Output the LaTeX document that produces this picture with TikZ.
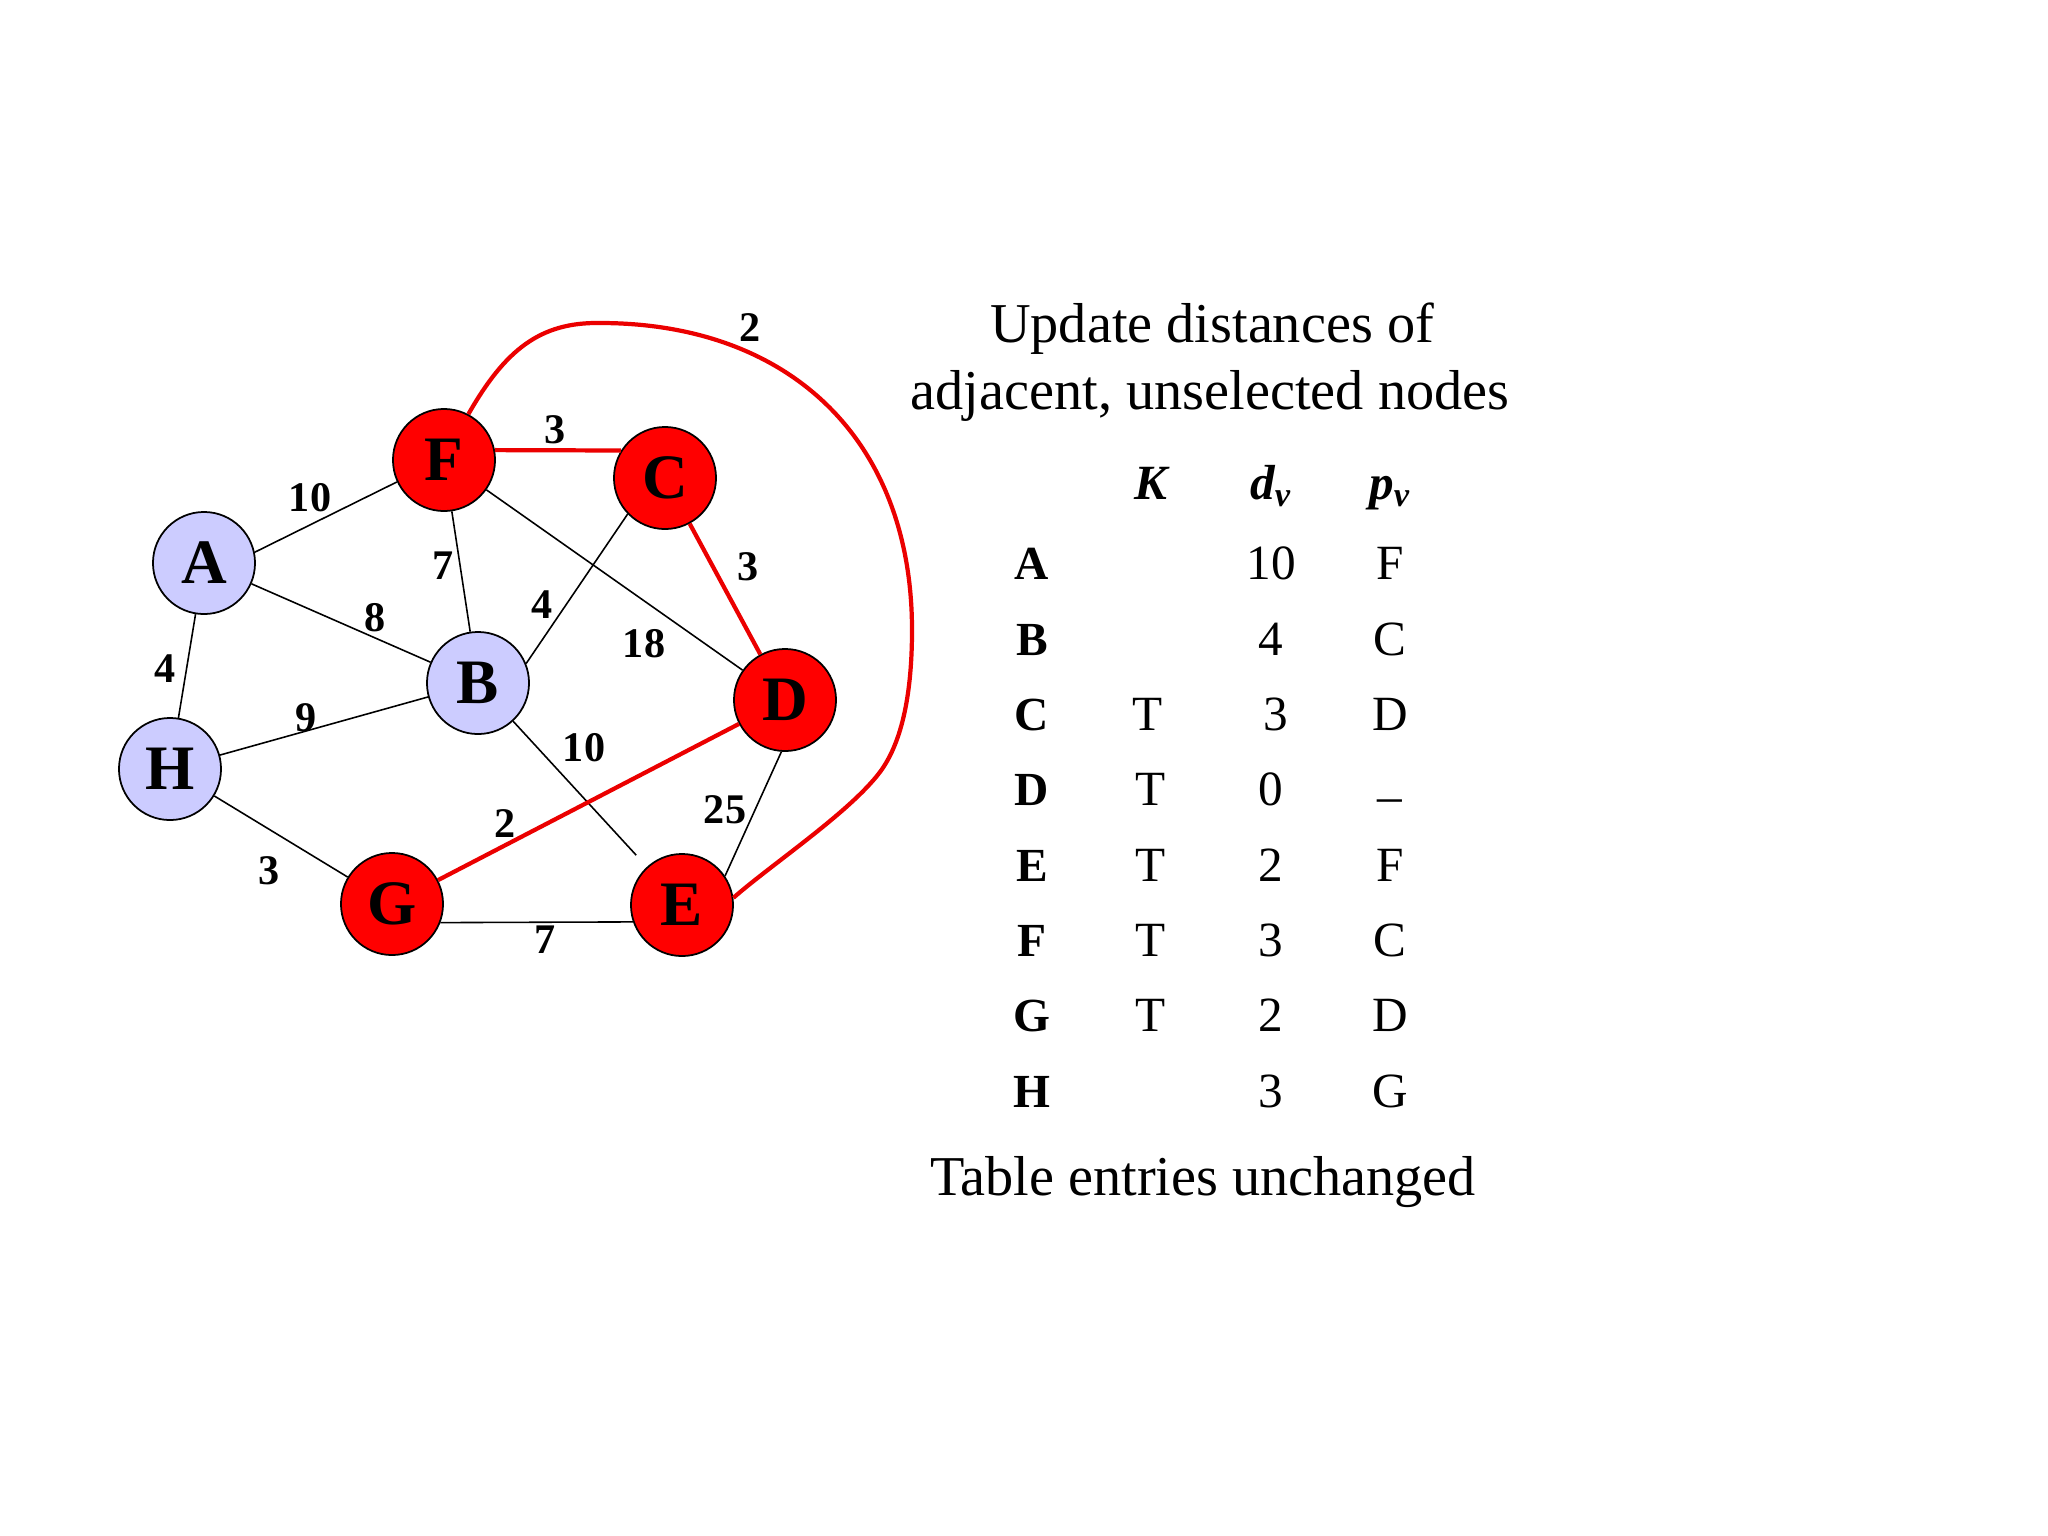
\documentclass[tikz,border=0pt]{standalone}
\usepackage{fontspec}
\setmainfont{Liberation Serif}
\definecolor{lav}{RGB}{204,204,255}
\definecolor{myred}{RGB}{255,0,0}
\definecolor{edgered}{RGB}{235,0,0}
\begin{document}
\begin{tikzpicture}[x=0.01cm,y=-0.01cm,
  gnode/.style={circle,draw=black,line width=0.5pt,minimum size=1.02cm,inner sep=0pt,font=\fontsize{18}{18}\selectfont\bfseries},
  rnode/.style={gnode,fill=myred},
  bnode/.style={gnode,fill=lav},
  plain/.style={draw=black,line width=0.45pt},
  hot/.style={draw=edgered,line width=1.2pt},
  wlab/.style={inner sep=0pt,font=\fontsize{12}{12}\selectfont\bfseries},
  ttl/.style={inner sep=0pt,anchor=base,font=\fontsize{16}{19}\selectfont},
  rowlab/.style={inner sep=0pt,anchor=base,font=\fontsize{13.5}{14}\selectfont\bfseries},
  cell/.style={inner sep=0pt,anchor=base,font=\fontsize{14}{14}\selectfont},
  hdr/.style={inner sep=0pt,anchor=base,font=\fontsize{14}{14}\selectfont\bfseries\itshape}
]
\useasboundingbox (0,0) rectangle (2048,1536);

% graph nodes
\node[rnode] (F) at (444,460) {F};
\node[rnode] (C) at (665,478) {C};
\node[bnode] (A) at (204,563) {A};
\node[bnode] (B) at (478,683) {B};
\node[rnode] (D) at (785,700) {D};
\node[bnode] (H) at (170,769) {H};
\node[rnode] (G) at (392,904) {G};
\node[rnode] (E) at (682,905) {E};

% curve way points
\coordinate (k1) at (600,323);
\coordinate (k2) at (912,630);
\coordinate (k3) at (880,772);

% black edges
\draw[plain] (A.12) -- (F.205);
\draw[plain] (A) -- (B);
\draw[plain] (A) -- (H);
\draw[plain] (F) -- (B);
\draw[plain] (F) -- (D);
\draw[plain] (C.224) -- (B.22);
\draw[plain] (H) -- (B);
\draw[plain,shorten >=4.5pt] (B) -- (E);
\draw[plain] (H) -- (G);
\draw[plain] (G.-21) -- (E.199);
\draw[plain] (D.-94) -- (E.34);

% red edges
\draw[hot] (F.11) -- (C.148);
\draw[hot] (C) -- (D);
\draw[hot] (D) -- (G);
\draw[hot] (F.62) .. controls (505,350) and (540,322) .. (k1)
  .. controls (790,323) and (912,440) .. (k2)
  .. controls (912,700) and (900,745) .. (k3)
  .. controls (850,812) and (772,864) .. (E.8);

% edge weights
\node[wlab] (wAF) at (310,498) {10};
\node[wlab] (wFE) at (750,328) {2};
\node[wlab] (wFC) at (555,430) {3};
\node[wlab] (wFB) at (443,566) {7};
\node[wlab] (wAB) at (375,618) {8};
\node[wlab] (wCB) at (542,605) {4};
\node[wlab] (wFD) at (644,644) {18};
\node[wlab] (wCD) at (748,567) {3};
\node[wlab] (wAH) at (165,669) {4};
\node[wlab] (wHB) at (306,718) {9};
\node[wlab] (wBE) at (584,748) {10};
\node[wlab] (wDE) at (725,810) {25};
\node[wlab] (wDG) at (505,824) {2};
\node[wlab] (wHG) at (269,871) {3};
\node[wlab] (wGE) at (545,940) {7};

% title
\node[ttl] (t1) at (1212,342) {Update distances of};
\node[ttl] (t2) at (1210,409) {adjacent, unselected nodes};

% table header
\node[hdr] (hK) at (1151,499) {K};
\node[hdr] (hd) at (1271,499) {d\textsubscript{v}};
\node[hdr] (hp) at (1390,499) {p\textsubscript{v}};

% rows
\node[rowlab] (rA) at (1032,579) {A};
\node[rowlab] (rB) at (1032,655) {B};
\node[rowlab] (rC) at (1032,730) {C};
\node[rowlab] (rD) at (1032,805) {D};
\node[rowlab] (rE) at (1032,881) {E};
\node[rowlab] (rF) at (1032,956) {F};
\node[rowlab] (rG) at (1032,1031) {G};
\node[rowlab] (rH) at (1032,1107) {H};

\node[cell] (kC) at (1148,730) {T};
\node[cell] (kD) at (1151,805) {T};
\node[cell] (kE) at (1151,881) {T};
\node[cell] (kF) at (1151,956) {T};
\node[cell] (kG) at (1151,1031) {T};

\node[cell] (dA) at (1271,579) {10};
\node[cell] (dB) at (1271,655) {4};
\node[cell] (dC) at (1276,730) {3};
\node[cell] (dD) at (1271,805) {0};
\node[cell] (dE) at (1271,881) {2};
\node[cell] (dF) at (1271,956) {3};
\node[cell] (dG) at (1271,1031) {2};
\node[cell] (dH) at (1271,1107) {3};

\node[cell] (pA) at (1390,579) {F};
\node[cell] (pB) at (1390,655) {C};
\node[cell] (pC) at (1390,730) {D};
\node[cell] (pD) at (1390,812) {–};
\node[cell] (pE) at (1390,881) {F};
\node[cell] (pF) at (1390,956) {C};
\node[cell] (pG) at (1390,1031) {D};
\node[cell] (pH) at (1390,1107) {G};

% footer
\node[ttl] (foot) at (1203,1195) {Table entries unchanged};
\end{tikzpicture}
\end{document}
